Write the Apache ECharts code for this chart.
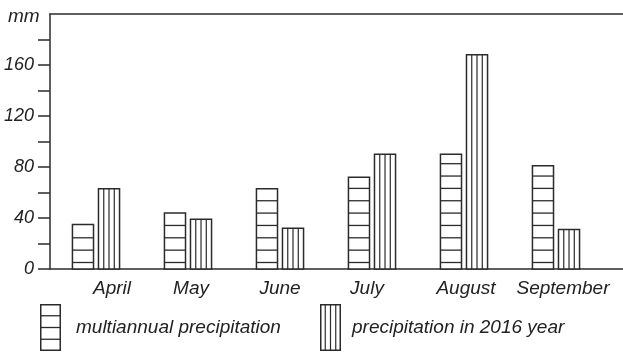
<!DOCTYPE html>
<html>
<head>
<meta charset="utf-8">
<script src="https://cdn.jsdelivr.net/npm/echarts@6/dist/echarts.min.js"></script>
<style>
html,body{margin:0;padding:0;background:#fff;}
#c{width:623px;height:352px;}
</style>
</head>
<body>
<div id="c"></div>
<script>
// ---- data ----
const categories = ['April', 'May', 'June', 'July', 'August', 'September'];
const multiannual = [35, 44, 63, 72, 90, 81];
const year2016 = [63, 39, 32, 90, 168, 31];
const seriesNames = ['multiannual precipitation', 'precipitation in 2016 year'];
const yUnit = 'mm';

// ---- styling ----
const FONT = "'Liberation Sans', Arial, sans-serif";
const INK = '#222';
const LINE = '#2b2b2b';
const labelShift = [16, 3, 0, -5, 2, 7]; // small hand-placed offsets of the month labels

const chart = echarts.init(document.getElementById('c'), null, {renderer: 'canvas'});

function barRenderer(side, kind) {
  return function (params, api) {
    const ci = api.value(0), v = api.value(1);
    const base = api.coord([ci, 0]);
    const top = api.coord([ci, v]);
    const band = api.size([1, 0])[0];
    const bw = band * 0.229;
    const gap = band * 0.054;
    const x0 = side < 0 ? base[0] - gap / 2 - bw : base[0] + gap / 2;
    const h = base[1] - top[1];
    const children = [{
      type: 'rect',
      shape: {x: x0, y: top[1], width: bw, height: h},
      style: {fill: '#fff', stroke: LINE, lineWidth: 1.5}
    }];
    if (kind === 'h') {
      for (let y = base[1] - 6.5; y > top[1] + 1.5; y -= 12.35) {
        children.push({type: 'line', shape: {x1: x0, y1: y, x2: x0 + bw, y2: y},
          style: {stroke: LINE, lineWidth: 1.3}});
      }
    } else {
      for (let k = 1; k < 4; k++) {
        const x = x0 + bw * k / 4;
        children.push({type: 'line', shape: {x1: x, y1: top[1], x2: x, y2: base[1]},
          style: {stroke: LINE, lineWidth: 1.2}});
      }
    }
    return {type: 'group', children};
  };
}

function iconSvg(kind) {
  const w = 21, h = 47;
  let s = `<svg xmlns="http://www.w3.org/2000/svg" width="${w}" height="${h}" viewBox="0 0 ${w} ${h}">`;
  s += `<rect x="0.75" y="0.75" width="${w - 1.5}" height="${h - 1.5}" fill="#fff" stroke="${LINE}" stroke-width="1.5"/>`;
  for (let k = 1; k < 4; k++) {
    if (kind === 'h') {
      const y = h * k / 4;
      s += `<line x1="0" y1="${y}" x2="${w}" y2="${y}" stroke="${LINE}" stroke-width="1.3"/>`;
    } else {
      const x = w * k / 4;
      s += `<line x1="${x}" y1="0" x2="${x}" y2="${h}" stroke="${LINE}" stroke-width="1.2"/>`;
    }
  }
  s += '</svg>';
  return 'image://data:image/svg+xml;charset=utf-8,' + encodeURIComponent(s);
}

const rich = {};
labelShift.forEach((s, i) => {
  rich['r' + i] = {
    fontFamily: FONT, fontStyle: 'italic', fontSize: 19, color: INK,
    padding: s >= 0 ? [0, 0, 0, 2 * s] : [0, -2 * s, 0, 0]
  };
});

const gridTop = 14, gridH = 255;

const option = {
  animation: false,
  backgroundColor: '#fff',
  title: {
    text: yUnit, left: 3, top: 2,
    textStyle: {fontFamily: FONT, fontStyle: 'italic', fontWeight: 'normal', fontSize: 19, color: INK}
  },
  grid: [
    {left: 50, top: gridTop, width: 552, height: gridH},
    {left: 50, top: gridTop, right: 0, height: gridH},
    {left: 50, top: gridTop + gridH * 20 / 200, width: 552, height: gridH * 180 / 200}
  ],
  legend: [
    {
      left: 40, top: 304, itemWidth: 21, itemHeight: 47, padding: 0,
      data: [{name: seriesNames[0], icon: iconSvg('h')}],
      selectedMode: false,
      textStyle: {fontFamily: FONT, fontStyle: 'italic', fontSize: 19, color: INK, padding: [0, 0, 0, 10]}
    },
    {
      left: 320, top: 304, itemWidth: 21, itemHeight: 47, padding: 0,
      data: [{name: seriesNames[1], icon: iconSvg('v')}],
      selectedMode: false,
      textStyle: {fontFamily: FONT, fontStyle: 'italic', fontSize: 19, color: INK, padding: [0, 0, 0, 6]}
    }
  ],
  xAxis: [
    {
      gridIndex: 0, type: 'category', data: categories,
      axisLine: {show: false}, axisTick: {show: false},
      axisLabel: {
        margin: 10, interval: 0,
        fontFamily: FONT, fontStyle: 'italic', fontSize: 19, color: INK,
        formatter: (v, i) => `{r${i}|${v}}`, rich
      }
    },
    {
      gridIndex: 1, type: 'value', position: 'bottom', min: 0, max: 1,
      axisLine: {show: true, lineStyle: {color: LINE, width: 1.5}},
      axisTick: {show: false}, axisLabel: {show: false}, splitLine: {show: false}
    },
    {
      gridIndex: 1, type: 'value', position: 'top', min: 0, max: 1,
      axisLine: {show: true, lineStyle: {color: LINE, width: 1.5}},
      axisTick: {show: false}, axisLabel: {show: false}, splitLine: {show: false}
    },
    {gridIndex: 2, type: 'value', show: false, min: 0, max: 1}
  ],
  yAxis: [
    {
      gridIndex: 0, type: 'value', min: 0, max: 200,
      axisLine: {show: true, lineStyle: {color: LINE, width: 1.5}},
      axisTick: {show: false}, axisLabel: {show: false}, splitLine: {show: false}
    },
    {gridIndex: 1, type: 'value', show: false, min: 0, max: 1},
    {
      gridIndex: 2, type: 'value', min: 0, max: 180, interval: 20,
      axisLine: {show: false},
      axisTick: {show: true, inside: false, length: 12, lineStyle: {color: LINE, width: 1.5}},
      axisLabel: {
        margin: 16, fontFamily: FONT, fontStyle: 'italic', fontSize: 18, color: INK,
        formatter: v => (v % 40 === 0 ? String(v) : '')
      },
      splitLine: {show: false}
    }
  ],
  series: [
    {
      name: seriesNames[0], type: 'custom', xAxisIndex: 0, yAxisIndex: 0,
      renderItem: barRenderer(-1, 'h'),
      data: multiannual.map((v, i) => [i, v])
    },
    {
      name: seriesNames[1], type: 'custom', xAxisIndex: 0, yAxisIndex: 0,
      renderItem: barRenderer(1, 'v'),
      data: year2016.map((v, i) => [i, v])
    }
  ]
};
chart.setOption(option);
</script>
</body>
</html>
